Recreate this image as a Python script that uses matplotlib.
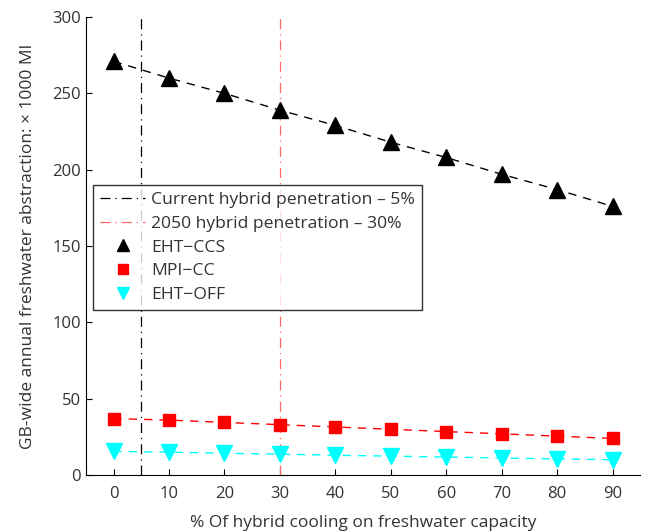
import matplotlib
matplotlib.use("Agg")
import matplotlib.pyplot as plt

plt.rcParams['font.family'] = ['Open Sans', 'DejaVu Sans']

hybrid_pct = [0, 10, 20, 30, 40, 50, 60, 70, 80, 90]
eht_ccs = [271, 260, 250, 239, 229, 218, 208, 197, 187, 176]
mpi_cc = [37, 36, 34.5, 33, 31.5, 30, 28.5, 27, 25.5, 24]
eht_off = [15.5, 15, 14.3, 13.7, 13, 12.4, 11.8, 11.2, 10.6, 10]
current_pen = 5
future_pen = 30

txt = '#333333'
fig = plt.figure(figsize=(6.5, 5.32), dpi=100)
ax = fig.add_axes([0.132, 0.107, 0.853, 0.861])

l1 = ax.axvline(current_pen, color='black', lw=0.9, ls=(0, (8, 4, 1, 4)),
                label='Current hybrid penetration \u2013 5%')
l2 = ax.axvline(future_pen, color='#ff6666', lw=0.9, ls=(0, (8, 4, 1, 4)),
                label='2050 hybrid penetration \u2013 30%')

ax.plot(hybrid_pct, eht_ccs, ls=(0, (6, 5)), color='black', lw=1)
ax.plot(hybrid_pct, mpi_cc, ls=(0, (6, 5)), color='red', lw=1)
ax.plot(hybrid_pct, eht_off, ls=(0, (6, 5)), color='cyan', lw=1)
m1, = ax.plot(hybrid_pct, eht_ccs, ls='none', marker='^', ms=11, color='black', label='EHT\u2212CCS')
m2, = ax.plot(hybrid_pct, mpi_cc, ls='none', marker='s', ms=9, color='red', label='MPI\u2212CC')
m3, = ax.plot(hybrid_pct, eht_off, ls='none', marker='v', ms=11, color='cyan', label='EHT\u2212OFF')

ax.set_xlim(-5, 95)
ax.set_ylim(0, 300)
ax.set_xticks(hybrid_pct)
ax.set_yticks([0, 50, 100, 150, 200, 250, 300])
ax.spines['top'].set_visible(False)
ax.spines['right'].set_visible(False)
ax.tick_params(direction='in', labelsize=12, labelcolor=txt, length=4)
ax.tick_params(axis='x', pad=8)
ax.set_xlabel('% Of hybrid cooling on freshwater capacity', fontsize=12.5, color=txt, labelpad=9)
ax.set_ylabel('GB-wide annual freshwater abstraction: \u00d7 1000 Ml', fontsize=12.5, color=txt, labelpad=12)

leg = ax.legend(handles=[l1, l2, m1, m2, m3], loc='upper left', bbox_to_anchor=(0.0126, 0.633),
                fontsize=12.6, frameon=True, fancybox=False, edgecolor='black',
                borderpad=0.4, labelspacing=0.42, handlelength=2.6, handletextpad=0.35,
                borderaxespad=0, markerscale=0.75)
leg.get_frame().set_linewidth(1)
for t in leg.get_texts():
    t.set_color(txt)

fig.savefig('out.png', dpi=100)
